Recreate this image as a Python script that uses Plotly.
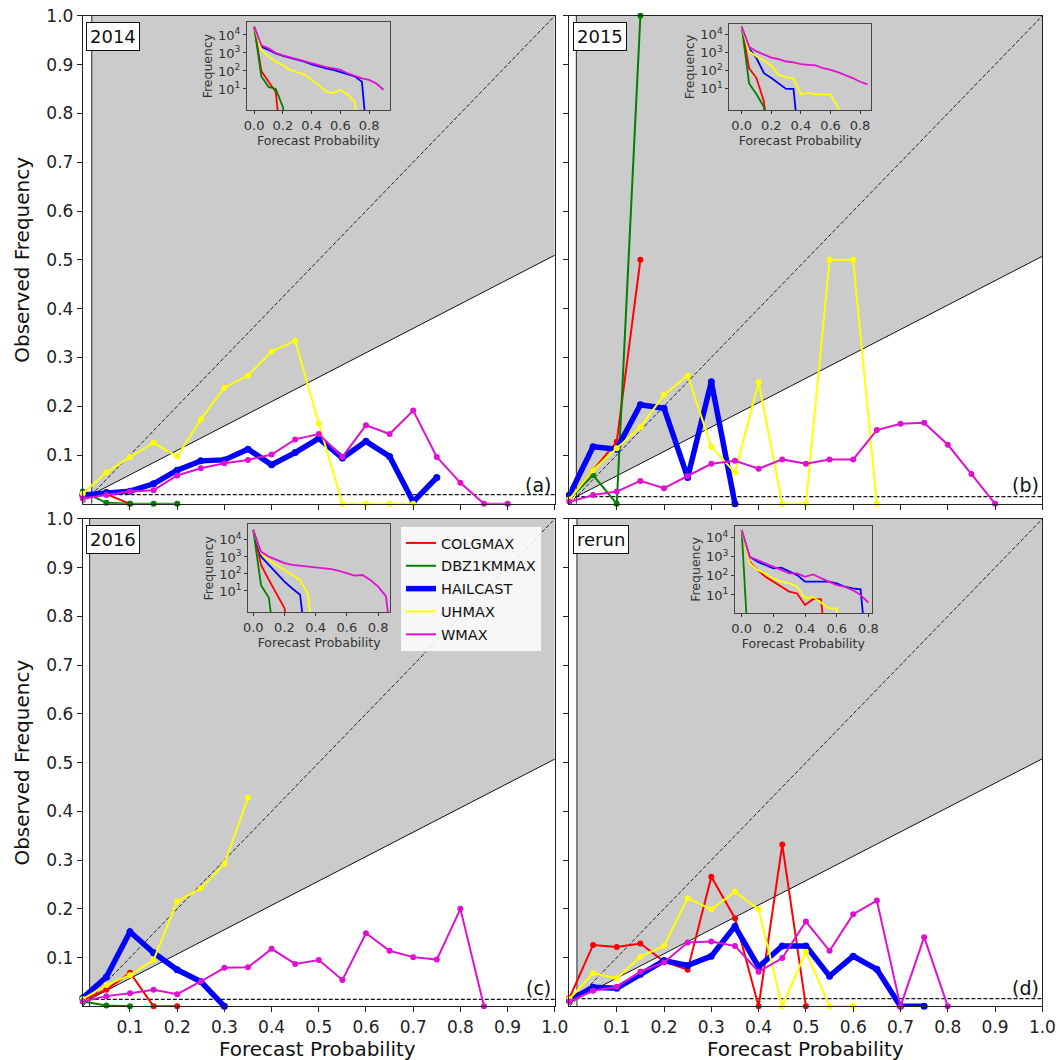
import plotly.graph_objects as go

# ---------------- data ----------------
models = ["COLGMAX", "DBZ1KMMAX", "HAILCAST", "UHMAX", "WMAX"]
colors = ["#ff0000", "#008000", "#0000ff", "#ffff00", "#e010d0"]
bins = [round(0.05 * k, 2) for k in range(19)]
years = ["2014", "2015", "2016", "rerun"]
letters = ["(a)", "(b)", "(c)", "(d)"]
clim = [0.019, 0.0146, 0.0145, 0.0159]

# observed frequency (reliability) per panel / model
a_colg = [0.02, 0.02, 0.0]
a_dbz = [0.025, 0.002, 0.0, 0.0, 0.0]
a_hail = [0.018, 0.023, 0.026, 0.041, 0.069, 0.088, 0.09, 0.112, 0.08, 0.105, 0.134, 0.094, 0.128, 0.097, 0.004, 0.054]
a_uh = [0.021, 0.064, 0.096, 0.125, 0.097, 0.173, 0.238, 0.263, 0.312, 0.334, 0.165, 0.0, 0.0, 0.0, 0.0]
a_w = [0.011, 0.018, 0.025, 0.028, 0.058, 0.073, 0.083, 0.09, 0.101, 0.132, 0.143, 0.096, 0.161, 0.143, 0.191, 0.096, 0.043, 0.0, 0.0]

b_colg = [0.008, 0.069, 0.127, 0.5]
b_dbz = [0.01, 0.059, 0.0, 1.0]
b_hail = [0.018, 0.117, 0.112, 0.203, 0.196, 0.054, 0.25, 0.0]
b_uh = [0.009, 0.069, 0.114, 0.157, 0.223, 0.263, 0.117, 0.064, 0.249, 0.0, 0.0, 0.5, 0.5, 0.0]
b_w = [0.004, 0.018, 0.025, 0.047, 0.032, 0.057, 0.082, 0.088, 0.072, 0.091, 0.082, 0.091, 0.091, 0.151, 0.164, 0.166, 0.121, 0.061, 0.0]

c_colg = [0.013, 0.034, 0.069, 0.0, 0.0]
c_dbz = [0.01, 0.002, 0.0]
c_hail = [0.017, 0.06, 0.153, 0.11, 0.075, 0.051, 0.0]
c_uh = [0.015, 0.044, 0.064, 0.095, 0.215, 0.242, 0.292, 0.428]
c_w = [0.01, 0.021, 0.027, 0.034, 0.025, 0.051, 0.079, 0.08, 0.118, 0.087, 0.095, 0.054, 0.15, 0.114, 0.101, 0.096, 0.2, 0.0]

d_colg = [0.017, 0.126, 0.122, 0.129, 0.092, 0.075, 0.266, 0.181, 0.0, 0.332, 0.0]
d_dbz = [0.01]
d_hail = [0.013, 0.039, 0.037, 0.066, 0.094, 0.084, 0.103, 0.164, 0.081, 0.124, 0.124, 0.062, 0.103, 0.076, 0.0, 0.0]
d_uh = [0.015, 0.068, 0.057, 0.102, 0.124, 0.222, 0.199, 0.235, 0.199, 0.0, 0.112, 0.0, 0.0]
d_w = [0.01, 0.032, 0.04, 0.071, 0.09, 0.131, 0.133, 0.124, 0.071, 0.099, 0.174, 0.114, 0.189, 0.217, 0.0, 0.142, 0.0]

# forecast counts (inset histograms)
ia_colg = [29000, 100, 25, 7, 0]
ia_dbz = [29000, 50, 13, 10, 1, 0]
ia_hail = [29000, 2200, 1500, 950, 700, 550, 400, 330, 230, 175, 140, 115, 90, 65, 50, 25, 0]
ia_uh = [29000, 1500, 630, 330, 210, 115, 85, 65, 32, 17, 7, 6, 9, 5, 2, 0]
ia_w = [29000, 2700, 1800, 1000, 740, 575, 430, 330, 270, 215, 165, 140, 115, 75, 55, 39, 32, 20, 9]

ib_colg = [28000, 140, 40, 2, 0]
ib_dbz = [28000, 20, 5, 1, 0]
ib_hail = [28000, 1800, 500, 75, 40, 20, 10, 10, 0]
ib_uh = [28000, 1200, 630, 350, 200, 60, 45, 40, 5, 6, 5, 5, 5, 1, 0]
ib_w = [28000, 2200, 1200, 780, 550, 450, 330, 300, 235, 215, 200, 140, 115, 85, 60, 40, 25, 18]

ic_colg = [39000, 340, 45, 7, 1, 0]
ic_dbz = [39000, 22, 4, 0]
ic_hail = [39000, 1050, 340, 110, 35, 14, 6, 0]
ic_uh = [39000, 1650, 660, 340, 175, 87, 45, 7, 0]
ic_w = [39000, 2000, 1050, 660, 430, 340, 310, 270, 235, 215, 195, 150, 110, 80, 87, 45, 18, 5, 0]

id_colg = [25000, 550, 200, 90, 50, 27, 15, 12, 3, 6, 6, 0]
id_dbz = [25000, 0]
id_hail = [25000, 1000, 550, 370, 245, 270, 165, 110, 50, 50, 50, 50, 40, 27, 22, 20, 0]
id_uh = [25000, 460, 200, 135, 75, 50, 40, 27, 7, 8, 4, 2, 2, 0]
id_w = [25000, 1000, 680, 460, 300, 205, 135, 135, 90, 120, 75, 50, 33, 27, 18, 10, 4]

rel = [[a_colg, a_dbz, a_hail, a_uh, a_w],
       [b_colg, b_dbz, b_hail, b_uh, b_w],
       [c_colg, c_dbz, c_hail, c_uh, c_w],
       [d_colg, d_dbz, d_hail, d_uh, d_w]]
cnt = [[ia_colg, ia_dbz, ia_hail, ia_uh, ia_w],
       [ib_colg, ib_dbz, ib_hail, ib_uh, ib_w],
       [ic_colg, ic_dbz, ic_hail, ic_uh, ic_w],
       [id_colg, id_dbz, id_hail, id_uh, id_w]]

main_ticks = [round(0.1 * k, 1) for k in range(1, 11)]
inset_xticks = [0.0, 0.2, 0.4, 0.6, 0.8]
inset_yticks = [10, 100, 1000, 10000]
inset_ytext = ["10<sup>1</sup>", "10<sup>2</sup>", "10<sup>3</sup>", "10<sup>4</sup>"]

# ---------------- layout geometry ----------------
W = H = 1060
main_x = [[0.0781, 0.5234], [0.5372, 0.9834], [0.0781, 0.5234], [0.5372, 0.9834]]
main_y = [[0.5247, 0.9851], [0.5247, 0.9851], [0.0506, 0.5105], [0.0506, 0.5105]]
inset_x = [[0.2330, 0.3679], [0.6880, 0.8217], [0.2342, 0.3679], [0.6934, 0.8223]]
inset_y = [[0.8962, 0.9792], [0.8962, 0.9774], [0.4224, 0.5054], [0.4214, 0.5041]]
inset_xr = [[-0.05, 0.945], [-0.084, 0.874], [-0.032, 0.876], [-0.042, 0.82]]
inset_yr = [[-0.17, 4.72], [-0.17, 4.6], [-0.25, 4.92], [0.04, 4.63]]

FONT = "DejaVu Sans"
fig = go.Figure()
shapes = []
annotations = []
layout = {}

for p in range(4):
    sfx = "" if p == 0 else str(p + 1)
    xa, ya = "x" + sfx, "y" + sfx
    o = clim[p]
    # skill region
    shapes.append(dict(type="path", xref=xa, yref=ya, layer="below",
                       path=f"M {o},{o} L 1,{(1 + o) / 2} L 1,1 L {o},1 Z",
                       fillcolor="#cbcbcb", line=dict(width=0)))
    shapes.append(dict(type="line", xref=xa, yref=ya, layer="below", x0=o, y0=0, x1=o, y1=1,
                       line=dict(color="#222", width=1)))
    shapes.append(dict(type="line", xref=xa, yref=ya, layer="below", x0=o, y0=o, x1=1, y1=(1 + o) / 2,
                       line=dict(color="#111", width=1)))
    shapes.append(dict(type="line", xref=xa, yref=ya, layer="below", x0=0, y0=0, x1=1, y1=1,
                       line=dict(color="#222", width=1, dash="4px,2px")))
    shapes.append(dict(type="line", xref=xa, yref=ya, layer="below", x0=0, y0=o, x1=1, y1=o,
                       line=dict(color="#111", width=1.2, dash="4px,2px")))
    for m in range(5):
        vals = rel[p][m]
        thick = models[m] == "HAILCAST"
        fig.add_trace(go.Scatter(
            x=bins[:len(vals)], y=vals, xaxis=xa, yaxis=ya, mode="lines+markers",
            line=dict(color=colors[m], width=5.5 if thick else 2),
            marker=dict(color=colors[m], size=7 if thick else 6),
            showlegend=False, cliponaxis=False, hoverinfo="skip"))
    bottom = p >= 2
    left = p % 2 == 0
    common = dict(range=[0, 1], tickvals=main_ticks, ticktext=[f"{t:.1f}" for t in main_ticks],
                  ticks="outside", ticklen=5, tickcolor="#222", showline=True, mirror=True,
                  linecolor="#222", linewidth=1, showgrid=False, zeroline=False, automargin=False,
                  tickfont=dict(size=17, color="#222", family=FONT))
    layout["xaxis" + sfx] = dict(domain=main_x[p], anchor=ya, showticklabels=bottom, **common)
    layout["yaxis" + sfx] = dict(domain=main_y[p], anchor=xa, showticklabels=left, **common)
    annotations.append(dict(xref=xa + " domain", yref=ya + " domain", x=0.0078, y=0.987,
                            xanchor="left", yanchor="top", text=years[p], showarrow=False,
                            font=dict(size=18, color="#111", family=FONT), bgcolor="white",
                            bordercolor="#111", borderwidth=1, borderpad=3))
    annotations.append(dict(xref=xa + " domain", yref=ya, x=0.996, y=0.038, xanchor="right",
                            yanchor="middle", text=letters[p], showarrow=False,
                            font=dict(size=19, color="#111", family=FONT)))

    # inset
    isfx = str(p + 5)
    ixa, iya = "x" + isfx, "y" + isfx
    for m in range(5):
        c = cnt[p][m]
        yv = [v if v > 0 else 1e-3 for v in c]
        fig.add_trace(go.Scatter(
            x=bins[:len(c)], y=yv, xaxis=ixa, yaxis=iya, mode="lines",
            line=dict(color=colors[m], width=1.8), showlegend=False, hoverinfo="skip"))
    icommon = dict(ticks="outside", ticklen=3, tickcolor="#333", showline=True, mirror=True,
                   linecolor="#444", linewidth=1, showgrid=False, zeroline=False, automargin=False,
                   tickfont=dict(size=13, color="#333", family=FONT))
    layout["xaxis" + isfx] = dict(domain=inset_x[p], range=inset_xr[p], anchor=iya, tickvals=inset_xticks,
                                  ticktext=[f"{t:.1f}" for t in inset_xticks],
                                  title=dict(text="Forecast Probability", standoff=0,
                                             font=dict(size=12.5, color="#333", family=FONT)), **icommon)
    layout["yaxis" + isfx] = dict(domain=inset_y[p], type="log", range=inset_yr[p], anchor=ixa,
                                  tickvals=inset_yticks, ticktext=inset_ytext,
                                  title=dict(text="Frequency", standoff=2,
                                             font=dict(size=12.5, color="#333", family=FONT)), **icommon)

# legend-only traces
for m in range(5):
    fig.add_trace(go.Scatter(x=[None], y=[None], mode="lines", name=models[m],
                             line=dict(color=colors[m], width=5.5 if models[m] == "HAILCAST" else 2),
                             legendgroup=models[m], showlegend=True))

for yc in [0.7549, 0.2806]:
    annotations.append(dict(xref="paper", yref="paper", x=22 / W, y=yc, textangle=-90,
                            text="Observed Frequency", showarrow=False, xanchor="center", yanchor="middle",
                            font=dict(size=20, color="#111", family=FONT)))
for xc in [0.2995, 0.7603]:
    annotations.append(dict(xref="paper", yref="paper", x=xc, y=1 - 1049 / H,
                            text="Forecast Probability", showarrow=False, xanchor="center", yanchor="middle",
                            font=dict(size=20, color="#111", family=FONT)))

fig.update_layout(
    width=W, height=H, margin=dict(l=0, r=0, t=0, b=0, autoexpand=False),
    paper_bgcolor="white", plot_bgcolor="rgba(0,0,0,0)",
    font=dict(family=FONT), shapes=shapes, annotations=annotations,
    legend=dict(x=400 / W, y=1 - 526 / H, xanchor="left", yanchor="top",
                bgcolor="rgba(255,255,255,0.85)", bordercolor="#cccccc", borderwidth=1,
                font=dict(size=14.5, color="#111", family=FONT), tracegroupgap=1),
    **layout)

fig.write_html("out.html")
